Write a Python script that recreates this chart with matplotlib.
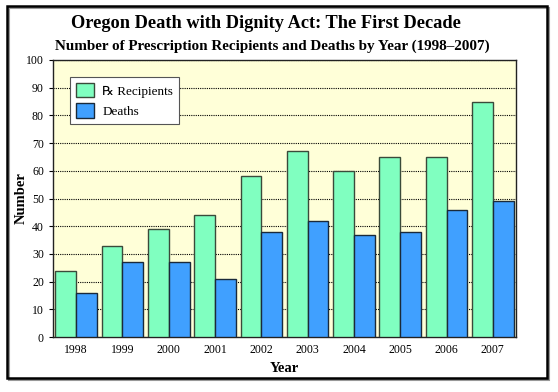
import matplotlib
matplotlib.use("Agg")
import matplotlib.pyplot as plt
import numpy as np
from matplotlib.patches import Rectangle

years = ["1998", "1999", "2000", "2001", "2002", "2003", "2004", "2005", "2006", "2007"]
recipients = [24, 33, 39, 44, 58, 67, 60, 65, 65, 85]
deaths = [16, 27, 27, 21, 38, 42, 37, 38, 46, 49]

plt.rcParams['font.family'] = ['Liberation Serif', 'DejaVu Serif', 'DejaVu Sans']

fig = plt.figure(figsize=(5.58, 3.92), dpi=100)
fig.patch.set_facecolor('white')

# outer frame with shadow
fig.patches.append(Rectangle((9/558, 1 - 380/392), 540/558, 372/392, transform=fig.transFigure,
                             facecolor='none', edgecolor='#999999', linewidth=1.5, zorder=0))
fig.patches.append(Rectangle((7/558, 1 - 378/392), 540/558, 372/392, transform=fig.transFigure,
                             facecolor='none', edgecolor='black', linewidth=1.8, zorder=1))

ax = fig.add_axes([53/558, 1 - 337/392, 463/558, 277/392])
ax.set_facecolor('#FFFFD8')

x = np.arange(len(years))
w = 0.45
ax.bar(x - w/2, recipients, width=w, color='#80FFC0', edgecolor='#3a4a3a', linewidth=1.0,
       label='\u211e Recipients', zorder=3)
ax.bar(x + w/2, deaths, width=w, color='#40A0FF', edgecolor='#1a2a3a', linewidth=1.0,
       label='Deaths', zorder=3)

ax.set_xlim(-0.5, 9.5)
ax.set_ylim(0, 100)
ax.set_yticks(range(0, 101, 10))
ax.set_xticks(x)
ax.set_xticklabels(years, fontsize=8.5)
ax.tick_params(axis='y', labelsize=8.5, length=3)
ax.tick_params(axis='x', length=0, pad=5)
ax.yaxis.grid(True, linestyle=(0, (1, 1)), color='black', linewidth=0.8, zorder=1)
ax.set_axisbelow(True)
for s in ax.spines.values():
    s.set_linewidth(1.0)
    s.set_color('#222222')

ax.set_xlabel('Year', fontsize=10.5, fontweight='bold', labelpad=4)
ax.set_ylabel('Number', fontsize=10.5, fontweight='bold')
ax.yaxis.set_label_coords(-25/463, 0.5)

leg = ax.legend(loc='upper left', bbox_to_anchor=(17/463, 1 - 17/277), fontsize=9.5,
                frameon=True, fancybox=False, edgecolor='#555555', framealpha=1,
                handlelength=1.4, handleheight=1.3, borderpad=0.45, labelspacing=0.45,
                handletextpad=0.6, borderaxespad=0)
leg.get_frame().set_linewidth(0.8)
leg.set_zorder(5)

fig.text(266/558, 1 - 23/392, 'Oregon Death with Dignity Act: The First Decade',
         ha='center', va='center', fontsize=13.2, fontweight='bold')
fig.text(272/558, 1 - 46/392, 'Number of Prescription Recipients and Deaths by Year (1998–2007)',
         ha='center', va='center', fontsize=10.9, fontweight='bold')

fig.savefig('out.png', dpi=100)
